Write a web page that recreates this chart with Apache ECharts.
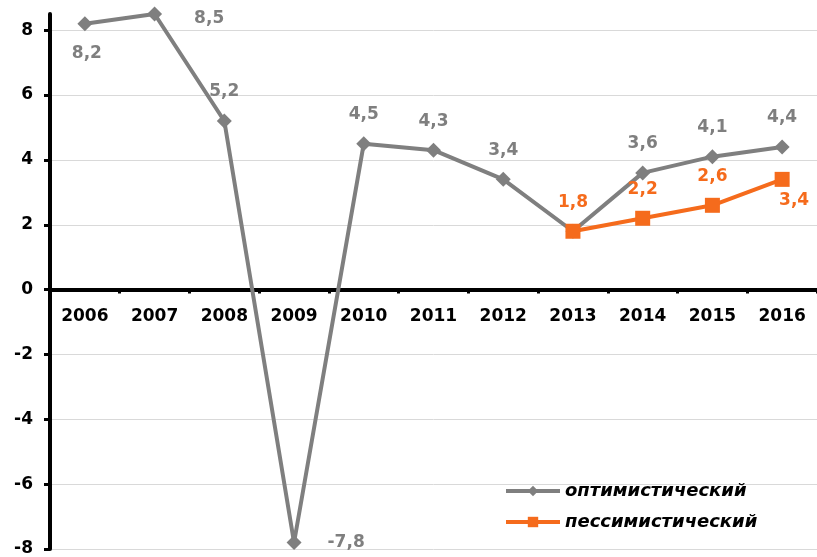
<!DOCTYPE html>
<html>
<head>
<meta charset="utf-8">
<script src="https://cdn.jsdelivr.net/npm/echarts@6/dist/echarts.min.js"></script>
<style>
  html, body { margin: 0; padding: 0; background: #fff; }
  #main { width: 817px; height: 557px; }
</style>
</head>
<body>
<div id="main"></div>
<script>
var years = ['2006', '2007', '2008', '2009', '2010', '2011', '2012', '2013', '2014', '2015', '2016'];
var optimistic = [8.2, 8.5, 5.2, -7.8, 4.5, 4.3, 3.4, 1.8, 3.6, 4.1, 4.4];
var pessimistic = [null, null, null, null, null, null, null, 1.8, 2.2, 2.6, 3.4];
var yTicks = [-8, -6, -4, -2, 0, 2, 4, 6, 8];

var gray = '#7f7f7f';
var orange = '#f56b1c';
var font = 'DejaVu Sans, Verdana, sans-serif';

// где ставить подписи у точек
var optPos = ['bottom', 'right', 'top', 'right', 'top', 'top', 'top', 'none', 'top', 'top', 'top'];
var pesPos = [null, null, null, null, null, null, null, 'top', 'top', 'top', 'bottom'];

function fmt(v) {
  return String(v).replace('.', ',');
}

var optData = optimistic.map(function (v, i) {
  var p = optPos[i];
  var lbl = { show: p !== 'none', position: p === 'none' ? 'top' : p, distance: 13 };
  if (p === 'right') lbl.distance = 26;
  if (i === 1) { lbl.distance = 32; lbl.offset = [0, 5]; }
  if (p === 'bottom') { lbl.distance = 14; lbl.offset = [2, 0]; }
  return { value: v, label: lbl };
});

var pesData = pessimistic.map(function (v, i) {
  if (v === null) return null;
  var lbl = { position: pesPos[i], distance: 13 };
  if (i === 10) { lbl.distance = 5; lbl.offset = [12, 0]; }
  return { value: v, label: lbl };
});

var myChart = echarts.init(document.getElementById('main'));
var option = {
  animation: false,
  grid: { left: 50, right: 0, top: 14, bottom: 8, containLabel: false, outerBoundsMode: 'none' },
  legend: {
    orient: 'vertical',
    left: 499,
    top: 477,
    itemWidth: 54,
    itemHeight: 13,
    itemGap: 13,
    lineStyle: { width: 4 },
    textStyle: {
      fontFamily: font,
      fontSize: 18,
      fontWeight: 'bold',
      fontStyle: 'italic',
      color: '#000'
    },
    data: ['оптимистический', 'пессимистический']
  },
  xAxis: [
    {
      // линия оси по нулю
      type: 'category',
      data: years,
      boundaryGap: true,
      axisLine: { onZero: true, lineStyle: { color: '#000', width: 4 } },
      axisTick: { show: true, length: 4, lineStyle: { color: '#000', width: 3 } },
      axisLabel: { show: false },
      splitLine: { show: false }
    },
    {
      // подписи годов сразу под нулём
      type: 'category',
      data: years,
      position: 'bottom',
      offset: -259,
      boundaryGap: true,
      axisLine: { show: false },
      axisTick: { show: false },
      axisLabel: {
        margin: 18,
        fontFamily: font,
        fontSize: 17,
        fontWeight: 'bold',
        color: '#000'
      },
      splitLine: { show: false }
    }
  ],
  yAxis: {
    type: 'value',
    min: -8,
    max: 8.5,
    interval: 2,
    axisLine: { show: true, lineStyle: { color: '#000', width: 4 } },
    axisTick: { show: true, length: 6, customValues: yTicks, lineStyle: { color: '#000', width: 3 } },
    axisLabel: {
      margin: 17,
      customValues: yTicks,
      fontFamily: font,
      fontSize: 17,
      fontWeight: 'bold',
      color: '#000'
    },
    splitLine: { show: true, lineStyle: { color: '#d9d9d9', width: 1 } }
  },
  series: [
    {
      name: 'оптимистический',
      type: 'line',
      data: optData,
      symbol: 'diamond',
      symbolSize: 15,
      clip: false,
      lineStyle: { color: gray, width: 4 },
      itemStyle: { color: gray },
      label: {
        show: true,
        formatter: function (p) { return fmt(p.value); },
        fontFamily: font,
        fontSize: 17,
        fontWeight: 'bold',
        color: gray
      },
      z: 2
    },
    {
      name: 'пессимистический',
      type: 'line',
      data: pesData,
      symbol: 'rect',
      symbolSize: 15,
      lineStyle: { color: orange, width: 4 },
      itemStyle: { color: orange },
      label: {
        show: true,
        formatter: function (p) { return fmt(p.value); },
        fontFamily: font,
        fontSize: 17,
        fontWeight: 'bold',
        color: orange
      },
      z: 3
    }
  ]
};
myChart.setOption(option);
</script>
</body>
</html>
